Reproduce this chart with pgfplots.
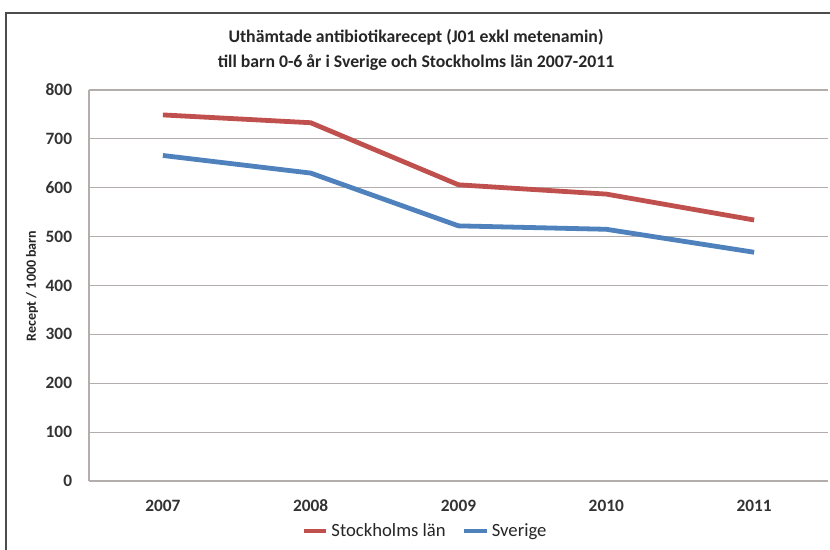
\documentclass[border=0pt]{standalone}
\usepackage{pgfplots}
\pgfplotsset{compat=1.18}
\usepackage{fontspec}
\setmainfont{Carlito}
\definecolor{redl}{HTML}{C0504D}
\definecolor{bluel}{HTML}{4F81BD}
\definecolor{gridc}{HTML}{B3AEAC}
\begin{document}
\begin{tikzpicture}[x=0.75pt,y=0.75pt]
\useasboundingbox (0,0) rectangle (830,549);
\draw[line width=1pt, black!70] (6,-20) -- (6,536) -- (850,536);
\node[align=center, font=\bfseries\fontsize{13.3}{18.75}\selectfont, text=black!85] at (416,499.5)
  {Uthämtade antibiotikarecept (J01 exkl metenamin)\\till barn 0-6 år i Sverige och Stockholms län 2007-2011};
\node[rotate=90, font=\bfseries\fontsize{10.5}{12}\selectfont, text=black!85] at (32,263) {Recept / 1000 barn};
\begin{axis}[
  at={(66.75pt,51pt)}, anchor=south west,
  scale only axis, width=554.25pt, height=293.25pt,
  xmin=-0.5, xmax=4.5, ymin=0, ymax=800,
  xtick={0,1,2,3,4}, xticklabels={2007,2008,2009,2010,2011},
  ytick={0,100,...,800},
  /pgf/number format/assume math mode=true,
  major tick length=0pt,
  axis line style={gridc, line width=0.9pt},
  axis x line*=bottom, axis y line*=left,
  ymajorgrids, grid style={gridc, line width=0.9pt},
  tick label style={font=\bfseries\fontsize{13}{15}\selectfont, text=black!80},
  yticklabel style={inner sep=0pt, xshift=-12.5pt},
  xticklabel style={inner sep=0pt, yshift=-14pt},
  legend style={at={(axis description cs:0.455,-0.128)}, anchor=center, draw=none,
    font=\fontsize{14}{16}\selectfont, text=black!85, legend columns=2,
    /tikz/every even column/.append style={column sep=10pt}},
  legend image code/.code={\draw[#1] (0pt,0pt) -- (17pt,0pt);},
]
\addplot[redl, line width=3.6pt, line join=round] coordinates {(0,749) (1,733) (2,606) (3,587) (4,534)};
\addlegendentry{Stockholms län}
\addplot[bluel, line width=3.6pt, line join=round] coordinates {(0,666) (1,630) (2,522) (3,515) (4,468)};
\addlegendentry{Sverige}
\end{axis}
\end{tikzpicture}
\end{document}
